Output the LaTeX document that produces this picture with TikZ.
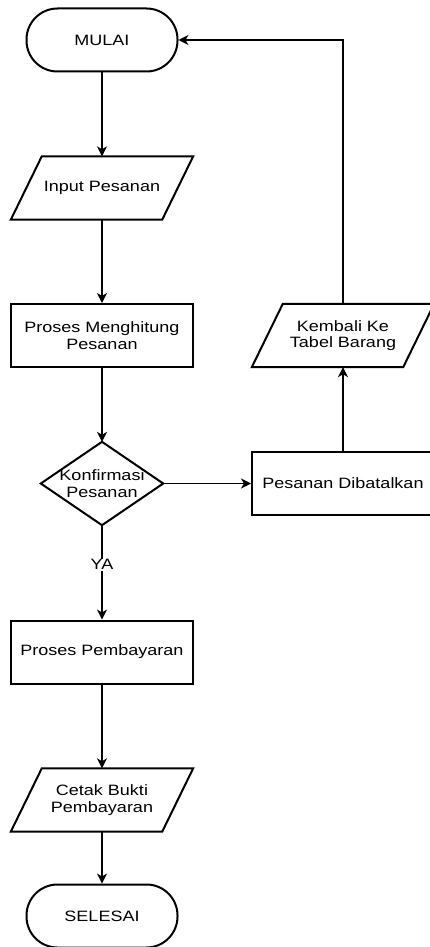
\documentclass[tikz,border=0pt]{standalone}
\usepackage{fontspec}
\setmainfont{Liberation Sans}[FakeStretch=1.2]
\usetikzlibrary{arrows.meta,calc}
\begin{document}
\begin{tikzpicture}[x=1pt,y=-1pt,
  every node/.style={font=\fontsize{15}{16.5}\selectfont, align=center, inner sep=0pt},
  shapeline/.style={line width=2pt},
  terminal/.style={shapeline, draw, rectangle, rounded corners=31pt, minimum width=151pt, minimum height=63pt},
  procbox/.style={shapeline, draw, rectangle, minimum width=182pt, minimum height=63pt},
  iobox/.style={rectangle, minimum width=182pt, minimum height=63pt},
  decbox/.style={rectangle, minimum width=122pt, minimum height=83pt},
  conn/.style={line width=1.3pt, -{Stealth[length=10pt,width=10pt,inset=3pt]}},
  lbl/.style={fill=white, inner sep=1pt}
]
\useasboundingbox (0,0) rectangle (430,947);

\node[terminal] (mulai) at (102,40) {MULAI};
\node[iobox] (input) at (102,188) {Input Pesanan};
\node[procbox] (hitung) at (102,335.5) {Proses Menghitung\\Pesanan};
\node[decbox] (konf) at (102,483.5) {Konfirmasi\\Pesanan};
\node[procbox] (bayar) at (102,652) {Proses Pembayaran};
\node[iobox] (cetak) at (102,800) {Cetak Bukti\\Pembayaran};
\node[terminal] (selesai) at (102,916) {SELESAI};
\node[procbox] (batal) at (343,483.5) {Pesanan Dibatalkan};
\node[iobox] (kembali) at (343,335.5) {Kembali Ke\\Tabel Barang};

% parallelograms
\foreach \n in {input,cetak,kembali}{
  \draw[shapeline] (\n.south west) -- ([xshift=31pt]\n.north west) -- (\n.north east) -- ([xshift=-31pt]\n.south east) -- cycle;
}
% diamond
\draw[shapeline] (konf.north) -- (konf.east) -- (konf.south) -- (konf.west) -- cycle;

\draw[conn] (mulai.south) -- (input.north);
\draw[conn] (input.south) -- (hitung.north);
\draw[conn] (hitung.south) -- (konf.north);
\draw[conn] (konf.east) -- (batal.west);
\draw[conn] (konf.south) -- node[lbl, pos=0.42] {YA} (bayar.north);
\draw[conn] (bayar.south) -- (cetak.north);
\draw[conn] (cetak.south) -- (selesai.north);
\draw[conn] (batal.north) -- (kembali.south);
\draw[conn] (kembali.north) |- (mulai.east);
\end{tikzpicture}
\end{document}
